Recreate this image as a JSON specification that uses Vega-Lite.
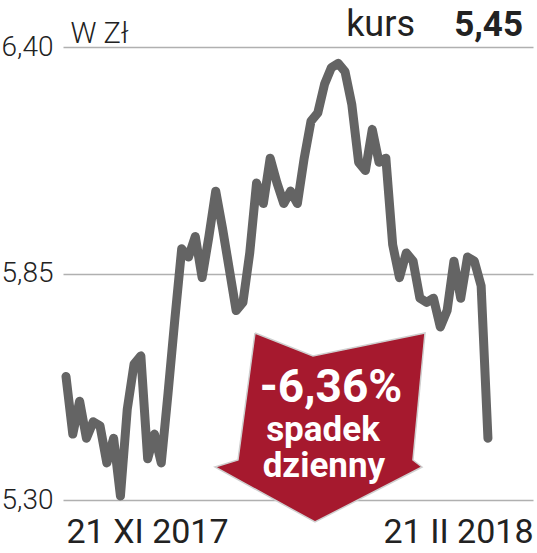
{
  "$schema": "https://vega.github.io/schema/vega-lite/v6.json",
  "width": 470,
  "height": 453,
  "autosize": {"type": "none"},
  "padding": {"left": 63, "top": 47, "right": 4, "bottom": 53},
  "background": "white",
  "config": {"view": {"stroke": null}, "font": "Roboto"},
  "layer": [
    {
      "data": {"values": [
        {"t": 0, "v": 5.60}, {"t": 1, "v": 5.46}, {"t": 2, "v": 5.54}, {"t": 3, "v": 5.45},
        {"t": 4, "v": 5.49}, {"t": 5, "v": 5.48}, {"t": 6, "v": 5.39}, {"t": 7, "v": 5.45},
        {"t": 8, "v": 5.31}, {"t": 9, "v": 5.52}, {"t": 10, "v": 5.63}, {"t": 11, "v": 5.65},
        {"t": 12, "v": 5.40}, {"t": 13, "v": 5.46}, {"t": 14, "v": 5.39}, {"t": 15, "v": 5.56},
        {"t": 16, "v": 5.74}, {"t": 17, "v": 5.91}, {"t": 18, "v": 5.89}, {"t": 19, "v": 5.94},
        {"t": 20, "v": 5.84}, {"t": 21, "v": 5.94}, {"t": 22, "v": 6.05}, {"t": 23, "v": 5.96},
        {"t": 24, "v": 5.86}, {"t": 25, "v": 5.76}, {"t": 26, "v": 5.78}, {"t": 27, "v": 5.90},
        {"t": 28, "v": 6.07}, {"t": 29, "v": 6.02}, {"t": 30, "v": 6.13}, {"t": 31, "v": 6.07},
        {"t": 32, "v": 6.02}, {"t": 33, "v": 6.05}, {"t": 34, "v": 6.02}, {"t": 35, "v": 6.13},
        {"t": 36, "v": 6.22}, {"t": 37, "v": 6.24}, {"t": 38, "v": 6.31}, {"t": 39, "v": 6.35},
        {"t": 40, "v": 6.36}, {"t": 41, "v": 6.34}, {"t": 42, "v": 6.26}, {"t": 43, "v": 6.12},
        {"t": 44, "v": 6.10}, {"t": 45, "v": 6.20}, {"t": 46, "v": 6.12}, {"t": 47, "v": 6.13},
        {"t": 48, "v": 5.92}, {"t": 49, "v": 5.84}, {"t": 50, "v": 5.90}, {"t": 51, "v": 5.88},
        {"t": 52, "v": 5.79}, {"t": 53, "v": 5.78}, {"t": 54, "v": 5.79}, {"t": 55, "v": 5.72},
        {"t": 56, "v": 5.76}, {"t": 57, "v": 5.88}, {"t": 58, "v": 5.79}, {"t": 59, "v": 5.89},
        {"t": 60, "v": 5.88}, {"t": 61, "v": 5.82}, {"t": 62, "v": 5.45}
      ]},
      "mark": {"type": "line", "color": "#646464", "strokeWidth": 9, "strokeJoin": "round", "strokeCap": "round", "clip": false},
      "encoding": {
        "x": {
          "field": "t", "type": "quantitative",
          "scale": {"domain": [-0.44, 68.62], "nice": false, "zero": false},
          "axis": {
            "values": [0, 68.62], "title": null, "grid": false, "ticks": false, "domain": false,
            "labelExpr": "datum.value < 10 ? '21 XI 2017' : '21 II 2018'",
            "labelAlign": {"condition": {"test": "datum.value < 10", "value": "left"}, "value": "right"},
            "labelFontSize": 34, "labelColor": "#222222", "labelPadding": 42, "labelBaseline": "alphabetic",
            "labelFlush": false, "labelOverlap": false, "labelFont": "Roboto", "labelFontWeight": 400
          }
        },
        "y": {
          "field": "v", "type": "quantitative",
          "scale": {"domain": [5.3, 6.4], "nice": false, "zero": false},
          "axis": {
            "values": [5.3, 5.85, 6.4], "title": "W Zł", "titleAngle": 0, "titleX": 7, "titleY": -5,
            "titleAlign": "left", "titleBaseline": "alphabetic", "titleFontSize": 29, "titleFontWeight": 300,
            "titleColor": "#222222", "titleFont": "Roboto",
            "labelExpr": "replace(format(datum.value, '.2f'), '.', ',')",
            "labelFontSize": 28, "labelFontWeight": 300, "labelColor": "#222222", "labelFont": "Roboto",
            "labelPadding": 10, "ticks": false, "domain": false,
            "grid": true, "gridColor": "#b0b0b0", "gridWidth": 1.5
          }
        }
      }
    },
    {
      "data": {"values": [
        {"k": 0, "t": 27.77, "v": 5.7055},
        {"k": 1, "t": 36.29, "v": 5.6497},
        {"k": 2, "t": 52.75, "v": 5.7055},
        {"k": 3, "t": 50.98, "v": 5.3971},
        {"k": 4, "t": 52.31, "v": 5.3801},
        {"k": 5, "t": 36.59, "v": 5.2466},
        {"k": 6, "t": 21.89, "v": 5.3801},
        {"k": 7, "t": 25.27, "v": 5.3971},
        {"k": 8, "t": 27.77, "v": 5.7055}
      ]},
      "mark": {"type": "line", "fill": "#a6192e", "stroke": "#cfcfcf", "strokeWidth": 1.5, "strokeJoin": "miter", "clip": false},
      "encoding": {
        "x": {"field": "t", "type": "quantitative", "scale": {"domain": [-0.44, 68.62], "nice": false, "zero": false}},
        "y": {"field": "v", "type": "quantitative", "scale": {"domain": [5.3, 6.4], "nice": false, "zero": false}},
        "order": {"field": "k", "type": "quantitative"}
      }
    },
    {
      "data": {"values": [{"label": "-6,36%"}]},
      "mark": {"type": "text", "color": "#ffffff", "fontSize": 46, "fontWeight": "bold", "font": "Roboto", "align": "center", "baseline": "alphabetic"},
      "encoding": {
        "x": {"datum": 38.94, "type": "quantitative", "scale": {"domain": [-0.44, 68.62], "nice": false, "zero": false}},
        "y": {"datum": 5.538, "type": "quantitative", "scale": {"domain": [5.3, 6.4], "nice": false, "zero": false}},
        "text": {"field": "label"}
      }
    },
    {
      "data": {"values": [{"label": "spadek"}]},
      "mark": {"type": "text", "color": "#ffffff", "fontSize": 35, "fontWeight": "bold", "font": "Roboto", "align": "center", "baseline": "alphabetic"},
      "encoding": {
        "x": {"datum": 37.76, "type": "quantitative", "scale": {"domain": [-0.44, 68.62], "nice": false, "zero": false}},
        "y": {"datum": 5.443, "type": "quantitative", "scale": {"domain": [5.3, 6.4], "nice": false, "zero": false}},
        "text": {"field": "label"}
      }
    },
    {
      "data": {"values": [{"label": "dzienny"}]},
      "mark": {"type": "text", "color": "#ffffff", "fontSize": 35, "fontWeight": "bold", "font": "Roboto", "align": "center", "baseline": "alphabetic"},
      "encoding": {
        "x": {"datum": 37.9, "type": "quantitative", "scale": {"domain": [-0.44, 68.62], "nice": false, "zero": false}},
        "y": {"datum": 5.356, "type": "quantitative", "scale": {"domain": [5.3, 6.4], "nice": false, "zero": false}},
        "text": {"field": "label"}
      }
    },
    {
      "data": {"values": [{"label": "kurs"}]},
      "mark": {"type": "text", "color": "#222222", "fontSize": 36, "fontWeight": 400, "font": "Roboto", "align": "right", "baseline": "alphabetic", "dx": -118, "dy": -11},
      "encoding": {
        "x": {"datum": 68.62, "type": "quantitative", "scale": {"domain": [-0.44, 68.62], "nice": false, "zero": false}},
        "y": {"datum": 6.4, "type": "quantitative", "scale": {"domain": [5.3, 6.4], "nice": false, "zero": false}},
        "text": {"field": "label"}
      }
    },
    {
      "data": {"values": [{"label": "5,45"}]},
      "mark": {"type": "text", "color": "#222222", "fontSize": 35, "fontWeight": "bold", "font": "Roboto", "align": "right", "baseline": "alphabetic", "dx": -10, "dy": -11},
      "encoding": {
        "x": {"datum": 68.62, "type": "quantitative", "scale": {"domain": [-0.44, 68.62], "nice": false, "zero": false}},
        "y": {"datum": 6.4, "type": "quantitative", "scale": {"domain": [5.3, 6.4], "nice": false, "zero": false}},
        "text": {"field": "label"}
      }
    }
  ]
}
